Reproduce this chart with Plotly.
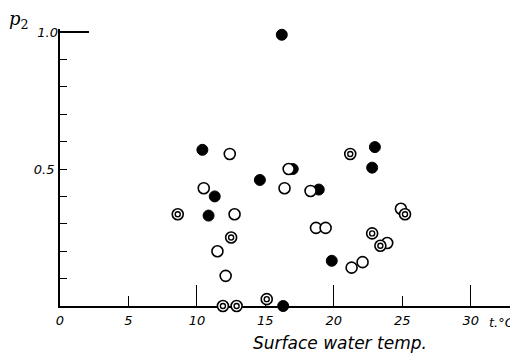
import plotly.graph_objects as go

# Surface water temperature (t, deg C) vs p2 — three kinds of observations
filled_t = [10.4, 17.0, 14.6, 11.3, 18.9, 10.85, 19.85, 16.3, 16.2, 23.0, 22.8]
filled_p = [0.57, 0.50, 0.46, 0.40, 0.425, 0.33, 0.165, 0.0, 0.99, 0.58, 0.505]

open_t = [12.4, 16.7, 10.5, 16.4, 18.3, 12.75, 18.7, 19.4, 11.5, 12.1, 24.9, 23.9, 22.1, 21.3]
open_p = [0.555, 0.50, 0.43, 0.43, 0.42, 0.335, 0.285, 0.285, 0.20, 0.11, 0.355, 0.23, 0.16, 0.14]

double_t = [21.2, 8.6, 12.5, 11.9, 12.9, 15.1, 25.2, 22.8, 23.4]
double_p = [0.555, 0.335, 0.25, 0.0, 0.0, 0.025, 0.335, 0.265, 0.22]

x_ticks = [0, 5, 10, 15, 20, 25, 30]
x_long_ticks = [10, 20, 30]
y_ticks = [0.1, 0.2, 0.3, 0.4, 0.5, 0.6, 0.7, 0.8, 0.9]
y_ticktext = ["", "", "", "", "0.5", "", "", "", ""]

X_RANGE = [0, 33.38]
Y_RANGE = [0, 1.011]
FONT = "DejaVu Sans"

fig = go.Figure()

fig.add_trace(go.Scatter(
    x=filled_t, y=filled_p, mode="markers", cliponaxis=False, showlegend=False,
    marker=dict(symbol="circle", size=11, color="black", line=dict(color="black", width=1))))
fig.add_trace(go.Scatter(
    x=open_t, y=open_p, mode="markers", cliponaxis=False, showlegend=False,
    marker=dict(symbol="circle", size=11, color="white", line=dict(color="black", width=1.6))))
fig.add_trace(go.Scatter(
    x=double_t, y=double_p, mode="markers", cliponaxis=False, showlegend=False,
    marker=dict(symbol="circle", size=11, color="white", line=dict(color="black", width=1.6))))
fig.add_trace(go.Scatter(
    x=double_t, y=double_p, mode="markers", cliponaxis=False, showlegend=False,
    marker=dict(symbol="circle", size=5, color="white", line=dict(color="black", width=1.4))))
# overlay axes carrying the long ticks
fig.add_trace(go.Scatter(x=[None], y=[None], xaxis="x2", yaxis="y2", showlegend=False))

tickfont = dict(family=FONT, size=13, color="black", style="italic")

# the page body adds an 8px offset, so the figure is 8px smaller each way
fig.update_layout(
    width=510, height=348,
    margin=dict(l=52, r=1, t=21, b=50),
    paper_bgcolor="white", plot_bgcolor="white",
    xaxis=dict(range=X_RANGE, showgrid=False, zeroline=False, showline=True,
               linecolor="black", linewidth=1.8, ticks="inside", ticklen=10,
               tickwidth=1.3, tickcolor="black", tickvals=x_ticks,
               ticktext=[str(v) for v in x_ticks], tickfont=tickfont,
               ticklabelstandoff=1, layer="below traces", fixedrange=True,
               automargin=False),
    yaxis=dict(range=Y_RANGE, showgrid=False, zeroline=False, showline=True,
               linecolor="black", linewidth=1.8, ticks="inside", ticklen=7,
               tickwidth=1.3, tickcolor="black", tickvals=y_ticks,
               ticktext=y_ticktext, tickfont=tickfont, ticklabelstandoff=1,
               layer="below traces", fixedrange=True, automargin=False),
    xaxis2=dict(range=X_RANGE, overlaying="x", anchor="y2", side="bottom",
                showgrid=False, zeroline=False, showline=False,
                ticks="inside", ticklen=21, tickwidth=1.3, tickcolor="black",
                tickvals=x_long_ticks, showticklabels=False, fixedrange=True,
                automargin=False),
    yaxis2=dict(range=Y_RANGE, overlaying="y", anchor="x2", side="left",
                showgrid=False, zeroline=False, showline=False,
                ticks="inside", ticklen=29, tickwidth=1.5, tickcolor="black",
                tickvals=[1.0], ticktext=["1.0"], tickfont=tickfont,
                ticklabelstandoff=1, fixedrange=True, automargin=False),
    annotations=[
        dict(text="<i>p</i><sub>2</sub>", xref="paper", yref="paper",
             x=-0.116, y=1.032, xanchor="left", yanchor="middle", showarrow=False,
             font=dict(family="DejaVu Serif", size=18, color="black")),
        dict(text="t.°C", xref="x", yref="paper", x=33.35, xanchor="right",
             y=-0.058, yanchor="middle", showarrow=False, font=tickfont),
        dict(text="Surface water temp.", xref="x", yref="paper", x=20.45, y=-0.134,
             xanchor="center", yanchor="middle", showarrow=False,
             font=dict(family=FONT, size=17, color="black", style="italic")),
    ],
)

fig.write_html("out.html")
